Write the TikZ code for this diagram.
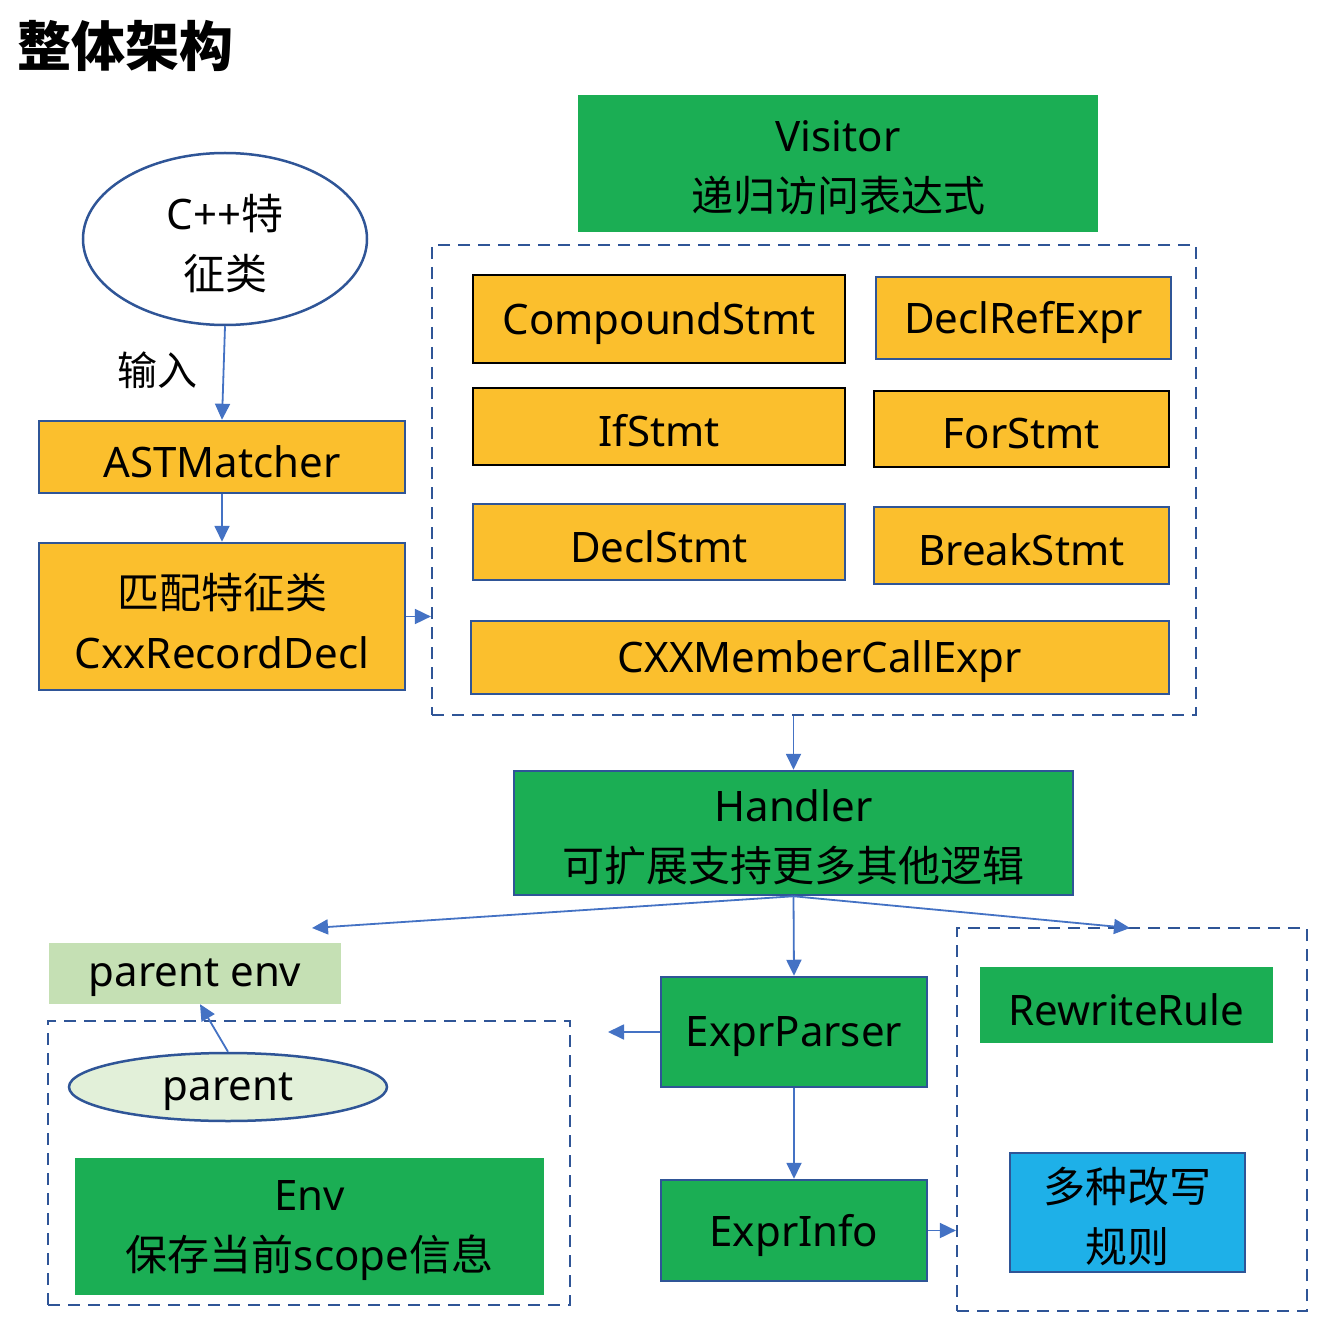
\documentclass[tikz,border=0pt]{standalone}
\usepackage{fontspec}
\setmainfont{Noto Sans}
\newfontfamily\cjk{Noto Sans CJK SC}
\usetikzlibrary{arrows.meta,shapes.geometric}
\definecolor{grn}{HTML}{1BAE54}
\definecolor{orng}{HTML}{FBBF2D}
\definecolor{bdr}{HTML}{2F5597}
\definecolor{arr}{HTML}{4472C4}
\definecolor{sky}{HTML}{1EB0E8}
\definecolor{lgreen}{HTML}{C5E0B4}
\definecolor{pale}{HTML}{E2F0D9}
\begin{document}
\begin{tikzpicture}[x=1pt,y=-1pt,
  txt/.style={font=\fontsize{42}{60}\selectfont, align=center, inner sep=0pt, text=black},
  t/.style={label={[txt,yshift=-4.5pt]center:#1}},
  obox/.style={fill=orng, draw=bdr, line width=2.5pt, inner sep=0pt},
  oblk/.style={obox, draw=black},
  gbox/.style={fill=grn, inner sep=0pt},
  gbbox/.style={gbox, draw=bdr, line width=2.5pt},
  dbox/.style={draw=bdr, line width=2.2pt, dash pattern=on 12pt off 8pt, inner sep=0pt},
  arrw/.style={draw=arr, line width=1.8pt, -{Triangle[length=16pt,width=15pt]}},
  sz/.style 2 args={minimum width=#1pt, minimum height=#2pt}
]
\useasboundingbox[fill=white] (0,0) rectangle (1342,1340);

% title
\node[inner sep=0pt, font=\fontsize{54}{60}\selectfont\cjk\bfseries] (title) at (125,46) {整体架构};

% left column
\node[ellipse, draw=bdr, line width=2.5pt, fill=white, inner sep=0pt, sz={284}{172}, t={C++{\cjk 特}\\{\cjk 征类}}] (cpp) at (225,239) {};
\node[txt, font=\fontsize{40}{48}\selectfont\cjk] (input) at (157,370) {输入};
\node[obox, sz={366}{72}, t={ASTMatcher}] (ast) at (222,457) {};
\node[obox, sz={366}{147}, t={{\cjk 匹配特征类}\\CxxRecordDecl}] (match) at (222,616.5) {};

% visitor
\node[gbox, sz={520}{137}, t={Visitor\\{\cjk 递归访问表达式}}] (visitor) at (838,163.5) {};

% dashed group of statements
\node[dbox, sz={764}{470}] (stmts) at (814,480) {};
\node[oblk, sz={372}{88}, t={CompoundStmt}] (compound) at (659,319) {};
\node[obox, sz={295}{82}, t={DeclRefExpr}] (declref) at (1023.5,318) {};
\node[oblk, sz={372}{77}, t={IfStmt}] (ifstmt) at (659,426.5) {};
\node[oblk, sz={295}{76}, t={ForStmt}] (forstmt) at (1021.5,429) {};
\node[obox, sz={372}{76}, t={DeclStmt}] (declstmt) at (659,542) {};
\node[obox, sz={295}{77}, t={BreakStmt}] (breakstmt) at (1021.5,545.5) {};
\node[obox, sz={698}{73}, t={CXXMemberCallExpr}] (member) at (820,657.5) {};

% handler
\node[gbbox, sz={559}{124}, t={Handler\\{\cjk 可扩展支持更多其他逻辑}}] (handler) at (793.5,833) {};

% env group
\node[fill=lgreen, inner sep=0pt, sz={292}{61}, t={parent env}] (penv) at (195,973.5) {};
\node[dbox, sz={522}{284}] (envgrp) at (309,1163) {};
\node[ellipse, draw=bdr, line width=2.5pt, fill=pale, inner sep=0pt, sz={318}{68}, t={parent}] (parent) at (228,1087) {};
\node[gbox, sz={469}{137}, t={Env\\{\cjk 保存当前}scope{\cjk 信息}}] (env) at (309.5,1226.5) {};

% expr parser / info
\node[gbbox, sz={266}{110}, t={ExprParser}] (parser) at (794,1032) {};
\node[gbbox, sz={266}{101}, t={ExprInfo}] (info) at (794,1230.5) {};

% rewrite group
\node[dbox, sz={350}{383}] (rwgrp) at (1132,1119.5) {};
\node[gbox, sz={293}{76}, t={RewriteRule}] (rewrite) at (1126.5,1005) {};
\node[fill=sky, draw=bdr, line width=2.5pt, inner sep=0pt, sz={235}{119}, t={{\cjk 多种改写}\\{\cjk 规则}}] (rules) at (1127.5,1212.5) {};

% free ends
\coordinate (hl) at (312,928);
\coordinate (hr) at (1130,928);
\coordinate (pl) at (608,1032);

% connectors
\draw[arrw] (cpp.south) -- (ast.north);
\draw[arrw] (ast.south) -- (match.north);
\draw[arrw] (match.east) -- (match.east -| stmts.west);
\draw[arrw] (handler.north |- stmts.south) -- (handler.north);
\draw[arrw] (handler.south) -- (hl);
\draw[arrw] (handler.south) -- (hr);
\draw[arrw] (handler.south) -- (parser.north);
\draw[arrw] (parser.west) -- (pl);
\draw[arrw] (parser.south) -- (info.north);
\draw[arrw] (info.east) -- (info.east -| rwgrp.west);
\draw[arrw] (parent.north) -- ([xshift=5pt]penv.south);
\end{tikzpicture}
\end{document}
